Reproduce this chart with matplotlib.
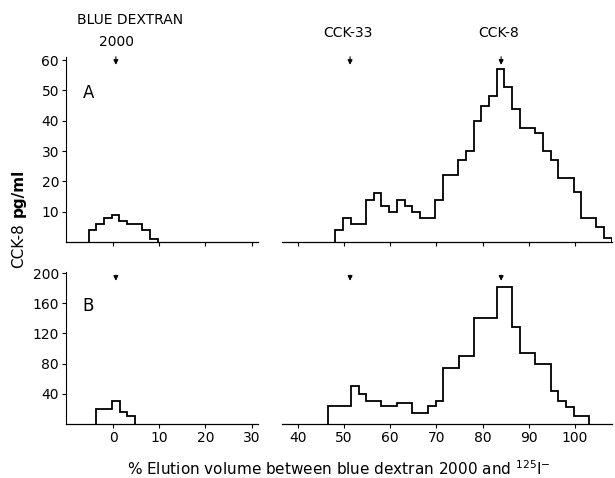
import matplotlib
matplotlib.use('Agg')
import matplotlib.pyplot as plt

# panel A (top) - CCK-8 pg/ml per fraction
a_left_edges = [-5.3, -3.7, -2.0, -0.3, 1.3, 3.0, 4.7, 6.3, 8.0, 9.7]
a_left_vals = [4, 6, 8, 9, 7, 6, 6, 4, 1]
a_right_edges = [48.1, 49.8, 51.4, 53.1, 54.8, 56.4, 58.1, 59.8, 61.4, 63.1,
                 64.7, 66.4, 68.1, 69.7, 71.4, 73.1, 74.7, 76.4, 78.1, 79.7,
                 81.4, 83.0, 84.7, 86.4, 88.0, 89.7, 91.4, 93.0, 94.7, 96.3,
                 98.0, 99.7, 101.3, 103.0, 104.6, 106.3, 108.0]
a_right_vals = [4, 8, 6, 6, 14, 16, 12, 10, 14, 12,
                10, 8, 8, 14, 22, 22, 27, 30, 40, 45,
                48, 57, 51, 44, 37.5, 37.5, 36, 30, 27, 21,
                21, 16.5, 8, 8, 5, 1.4]

# panel B (bottom)
b_left_edges = [-3.6, -2.0, -0.3, 1.4, 3.1, 4.8]
b_left_vals = [20, 20, 30, 16, 10]
b_right_edges = [46.5, 48.2, 49.8, 51.5, 53.2, 54.8, 56.5, 58.1, 59.8, 61.5,
                 63.1, 64.8, 66.5, 68.1, 69.8, 71.5, 73.1, 74.8, 76.5, 78.1,
                 79.8, 81.4, 83.1, 84.8, 86.4, 88.1, 89.8, 91.4, 93.1, 94.7,
                 96.4, 98.1, 99.7, 101.4, 103.1]
b_right_vals = [24, 24, 24, 50, 40, 30, 30, 24, 24, 27.5,
                27.5, 14, 14, 24, 30, 74, 74, 90, 90, 141,
                141, 141, 182, 182, 129, 94, 94, 80, 80, 44,
                31, 23, 11, 11]

markers = [0.6, 51.3, 84.0]  # arrow positions
marker_names = ['CCK-33', 'CCK-8']

fig = plt.figure(figsize=(6.15, 4.78), dpi=100)
axA = fig.add_axes([0.1073, 0.4937, 0.8878, 0.387])
axB = fig.add_axes([0.1073, 0.113, 0.8878, 0.319])

lw = 1.3
axA.stairs(a_left_vals, a_left_edges, color='black', linewidth=lw)
axA.stairs(a_right_vals, a_right_edges, color='black', linewidth=lw)
axB.stairs(b_left_vals, b_left_edges, color='black', linewidth=lw)
axB.stairs(b_right_vals, b_right_edges, color='black', linewidth=lw)

for ax, ymax, yt in [(axA, 61, [10, 20, 30, 40, 50, 60]),
                     (axB, 202, [40, 80, 120, 160, 200])]:
    ax.set_xlim(-10.2, 108)
    ax.set_ylim(0, ymax)
    ax.set_yticks(yt)
    ax.set_xticks(range(0, 101, 10))
    for s in ['top', 'right', 'bottom']:
        ax.spines[s].set_visible(False)
    ax.spines['left'].set_linewidth(0.8)
    ax.tick_params(length=3, width=0.8, labelsize=10, pad=2)
    # broken baseline
    ax.plot([-10.2, 31.4], [0, 0], color='black', lw=0.9, clip_on=False)
    ax.plot([36.6, 108], [0, 0], color='black', lw=0.9, clip_on=False)

axA.tick_params(axis='x', labelbottom=False)

# arrows
for x in markers:
    axA.annotate('', xy=(x, 57.5), xytext=(x, 62), annotation_clip=False,
                 arrowprops=dict(arrowstyle='-|>', color='black', lw=0.8,
                                 mutation_scale=7))
    axB.annotate('', xy=(x, 186), xytext=(x, 201), annotation_clip=False,
                 arrowprops=dict(arrowstyle='-|>', color='black', lw=0.8,
                                 mutation_scale=7))

axA.text(3.7, 73.2, 'BLUE DEXTRAN', ha='center', va='center', fontsize=10,
         clip_on=False)
axA.text(0.8, 65.9, '2000', ha='center', va='center', fontsize=10, clip_on=False)
axA.text(50.9, 68.9, marker_names[0], ha='center', va='center', fontsize=10,
         clip_on=False)
axA.text(83.4, 68.9, marker_names[1], ha='center', va='center', fontsize=10,
         clip_on=False)

axA.text(-5.4, 49, 'A', ha='center', va='center', fontsize=12)
axB.text(-5.4, 156, 'B', ha='center', va='center', fontsize=12)

fig.text(0.03, 0.533, 'CCK-8', rotation=90, ha='center', va='top', fontsize=11)
fig.text(0.03, 0.546, 'pg/ml', rotation=90, ha='center', va='bottom', fontsize=11,
         fontweight='bold')

axB.set_xlabel('% Elution volume between blue dextran 2000 and $^{125}$I$^{-}$',
               fontsize=11, labelpad=10)

fig.savefig('out.png', dpi=100)
